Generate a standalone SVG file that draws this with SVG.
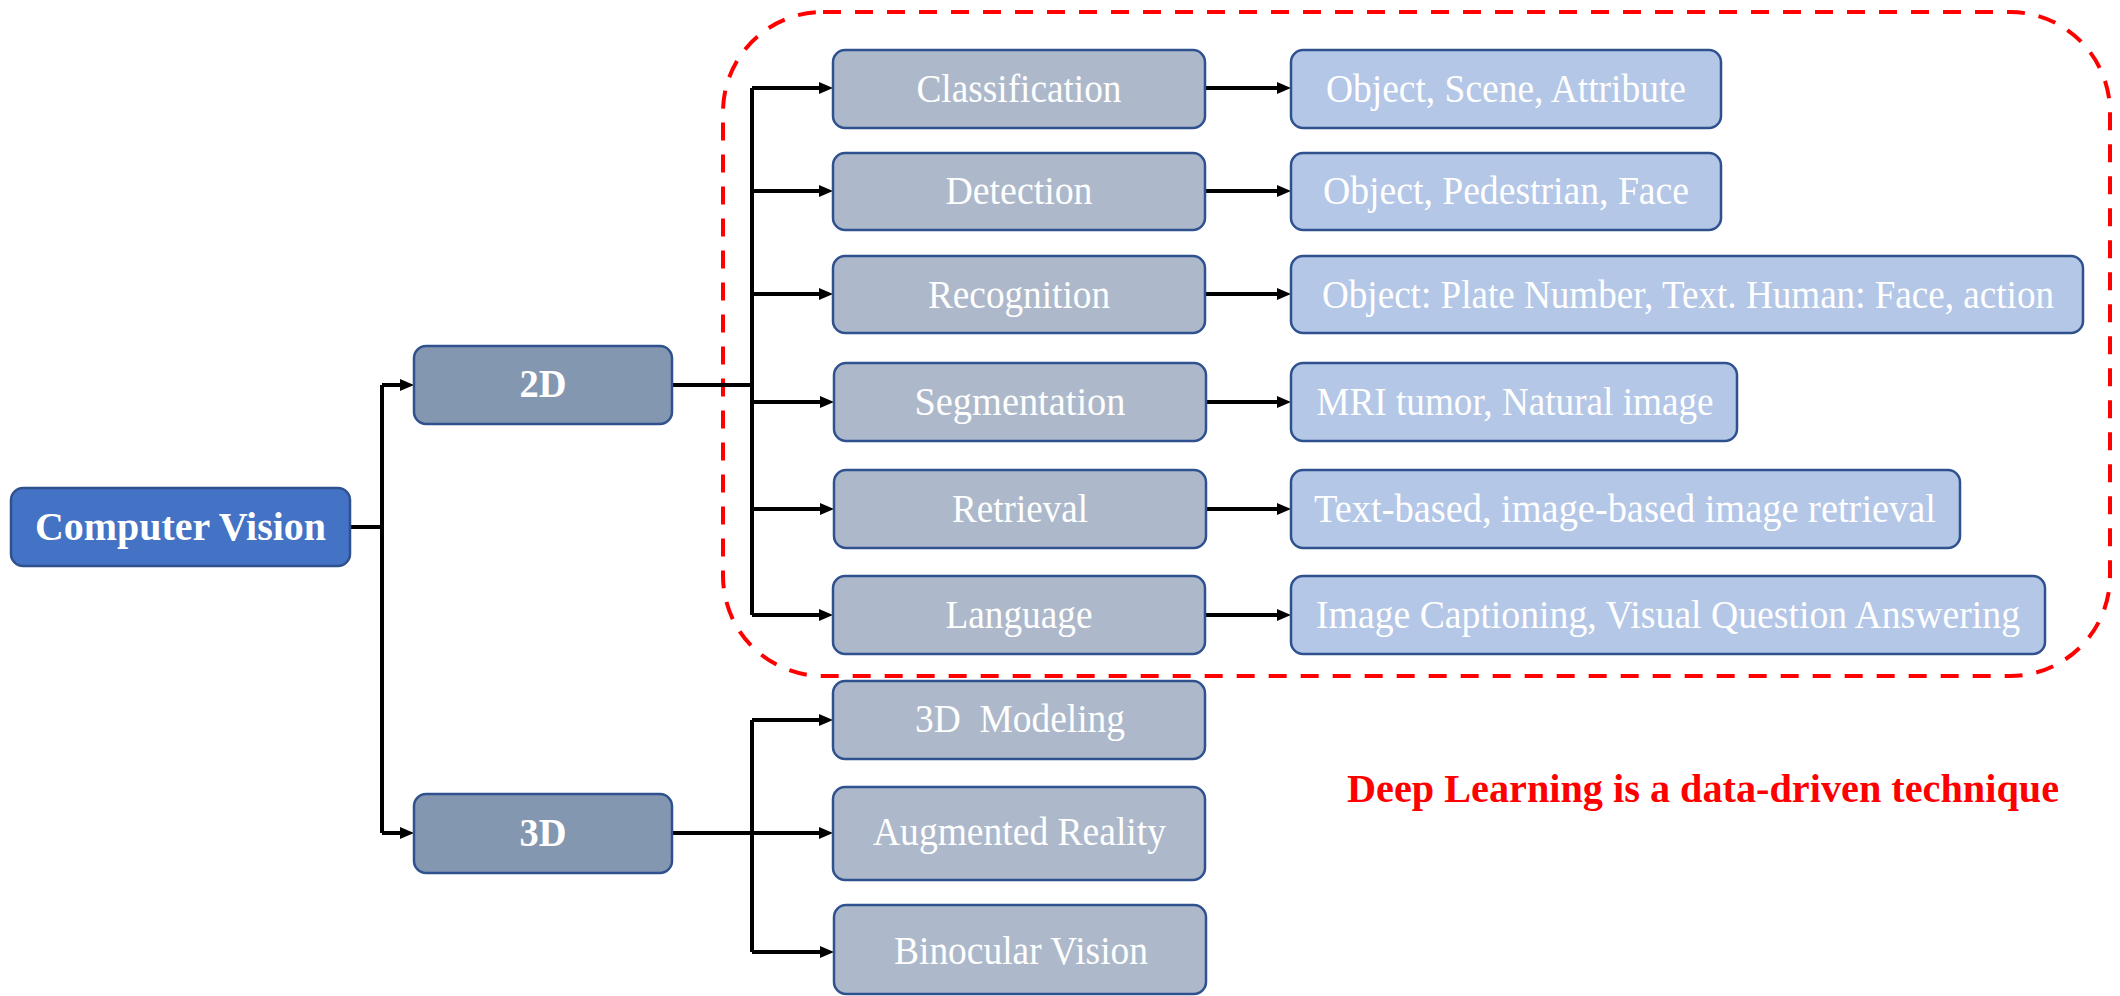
<svg xmlns="http://www.w3.org/2000/svg" width="2120" height="996" viewBox="0 0 2120 996">
<defs>
<marker id="ah" markerUnits="userSpaceOnUse" viewBox="0 0 14 12" markerWidth="14" markerHeight="12" refX="2" refY="6" orient="auto">
<path d="M0,0 L14,6 L0,12 z" fill="#000"/>
</marker>
<style>
.box{stroke:#2F528F;stroke-width:2.5}
.cv{fill:#4472C4}
.mid{fill:#8497B0}
.cat{fill:#ADB9CA}
.res{fill:#B4C7E7}
text{font-family:"Liberation Serif","Times New Roman",serif;fill:#fff;text-anchor:middle;font-size:39px}
.b{font-weight:bold;font-size:40px}
.wire{fill:none;stroke:#000;stroke-width:4}
.arr{fill:none;stroke:#000;stroke-width:4;marker-end:url(#ah)}
</style>
</defs>
<rect x="0" y="0" width="2120" height="996" fill="#fff"/>

<rect id="dl-region" x="723" y="12" width="1387" height="664" rx="100" ry="100" fill="none" stroke="#FF0000" stroke-width="4" stroke-dasharray="18 14"/>

<g id="connectors">
<path class="wire" d="M350,527 H382 M382,385 V833"/>
<path class="arr" d="M382,385 H402"/>
<path class="arr" d="M382,833 H402"/>
<path class="wire" d="M672,385 H752 M752,88 V615"/>
<path class="arr" d="M752,88 H821"/>
<path class="arr" d="M752,191 H821"/>
<path class="arr" d="M752,294 H821"/>
<path class="arr" d="M752,402 H822"/>
<path class="arr" d="M752,509 H822"/>
<path class="arr" d="M752,615 H821"/>
<path class="wire" d="M672,833 H752 M752,720 V952"/>
<path class="arr" d="M752,720 H821"/>
<path class="arr" d="M752,833 H821"/>
<path class="arr" d="M752,952 H822"/>
<path class="arr" d="M1205,88 H1279"/>
<path class="arr" d="M1205,191 H1279"/>
<path class="arr" d="M1205,294 H1279"/>
<path class="arr" d="M1206,402 H1279"/>
<path class="arr" d="M1206,509 H1279"/>
<path class="arr" d="M1205,615 H1279"/>
</g>

<g id="computer-vision"><rect class="box cv" x="11" y="488" width="339" height="78" rx="12"/><text class="b" x="180.5" y="540" textLength="291" lengthAdjust="spacingAndGlyphs">Computer Vision</text></g>
<g id="n2d"><rect class="box mid" x="414" y="346" width="258" height="78" rx="12"/><text class="b" x="543" y="397" textLength="47" lengthAdjust="spacingAndGlyphs">2D</text></g>
<g id="n3d"><rect class="box mid" x="414" y="794" width="258" height="79" rx="12"/><text class="b" x="543" y="846" textLength="47" lengthAdjust="spacingAndGlyphs">3D</text></g>

<g id="classification"><rect class="box cat" x="833" y="50" width="372" height="78" rx="12"/><text x="1019" y="102" textLength="205" lengthAdjust="spacingAndGlyphs">Classification</text></g>
<g id="detection"><rect class="box cat" x="833" y="153" width="372" height="77" rx="12"/><text x="1019" y="204" textLength="147" lengthAdjust="spacingAndGlyphs">Detection</text></g>
<g id="recognition"><rect class="box cat" x="833" y="256" width="372" height="77" rx="12"/><text x="1019" y="308" textLength="182" lengthAdjust="spacingAndGlyphs">Recognition</text></g>
<g id="segmentation"><rect class="box cat" x="834" y="363" width="372" height="78" rx="12"/><text x="1020" y="415" textLength="211" lengthAdjust="spacingAndGlyphs">Segmentation</text></g>
<g id="retrieval"><rect class="box cat" x="834" y="470" width="372" height="78" rx="12"/><text x="1020" y="522" textLength="136" lengthAdjust="spacingAndGlyphs">Retrieval</text></g>
<g id="language"><rect class="box cat" x="833" y="576" width="372" height="78" rx="12"/><text x="1019" y="628" textLength="147" lengthAdjust="spacingAndGlyphs">Language</text></g>
<g id="modeling"><rect class="box cat" x="833" y="681" width="372" height="78" rx="12"/><text x="1020" y="732" textLength="210" lengthAdjust="spacingAndGlyphs" xml:space="preserve">3D  Modeling</text></g>
<g id="augmented"><rect class="box cat" x="833" y="787" width="372" height="93" rx="12"/><text x="1019.5" y="845" textLength="293" lengthAdjust="spacingAndGlyphs">Augmented Reality</text></g>
<g id="binocular"><rect class="box cat" x="834" y="905" width="372" height="89" rx="12"/><text x="1021" y="964" textLength="254" lengthAdjust="spacingAndGlyphs">Binocular Vision</text></g>

<g id="r-classification"><rect class="box res" x="1291" y="50" width="430" height="78" rx="12"/><text x="1506" y="102" textLength="360" lengthAdjust="spacingAndGlyphs">Object, Scene, Attribute</text></g>
<g id="r-detection"><rect class="box res" x="1291" y="153" width="430" height="77" rx="12"/><text x="1506" y="204" textLength="366" lengthAdjust="spacingAndGlyphs">Object, Pedestrian, Face</text></g>
<g id="r-recognition"><rect class="box res" x="1291" y="256" width="792" height="77" rx="12"/><text x="1688" y="308" textLength="732" lengthAdjust="spacingAndGlyphs">Object: Plate Number, Text. Human: Face, action</text></g>
<g id="r-segmentation"><rect class="box res" x="1291" y="363" width="446" height="78" rx="12"/><text x="1515" y="415" textLength="397" lengthAdjust="spacingAndGlyphs">MRI tumor, Natural image</text></g>
<g id="r-retrieval"><rect class="box res" x="1291" y="470" width="669" height="78" rx="12"/><text x="1625" y="522" textLength="622" lengthAdjust="spacingAndGlyphs">Text-based, image-based image retrieval</text></g>
<g id="r-language"><rect class="box res" x="1291" y="576" width="754" height="78" rx="12"/><text x="1668" y="628" textLength="704" lengthAdjust="spacingAndGlyphs">Image Captioning, Visual Question Answering</text></g>

<g id="note"><text class="b" x="1703" y="802" style="fill:#FF0000" textLength="712" lengthAdjust="spacingAndGlyphs">Deep Learning is a data-driven technique</text></g>
</svg>
